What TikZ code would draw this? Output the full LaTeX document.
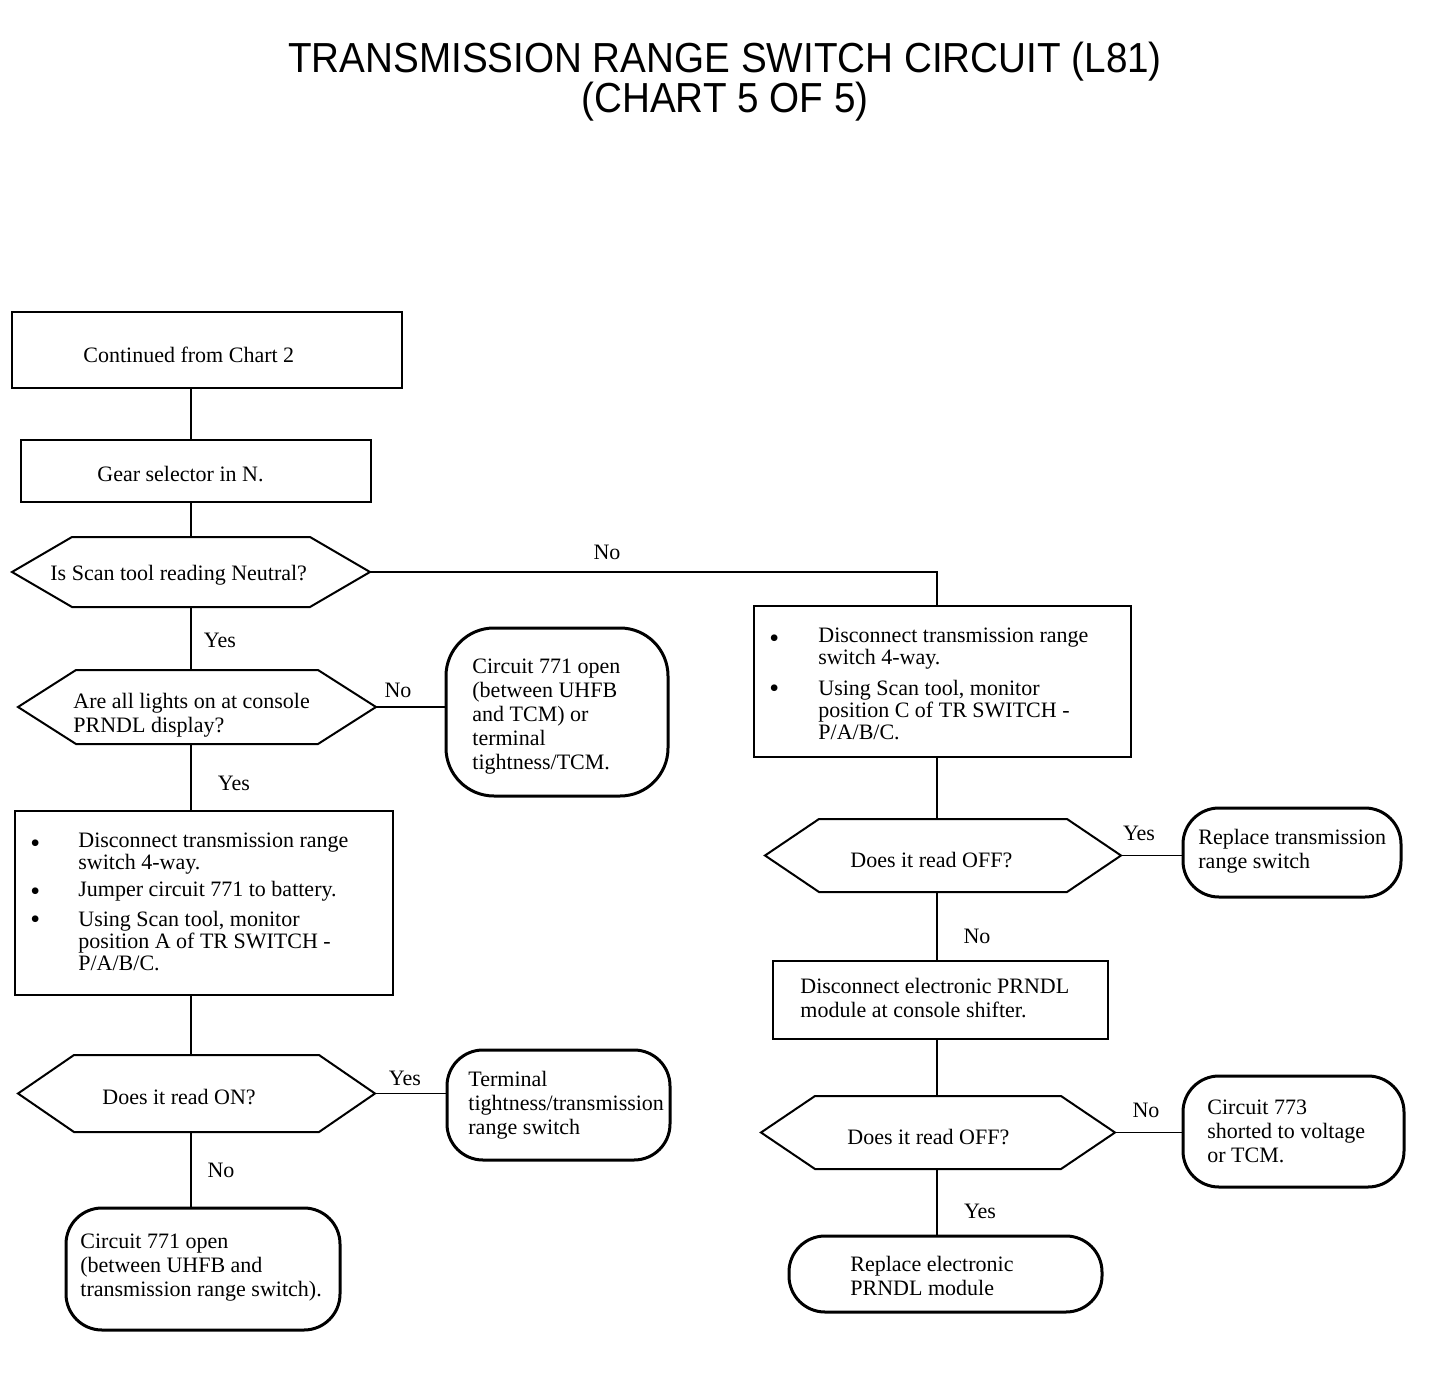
\documentclass[tikz,border=0pt]{standalone}
\usepackage{fontspec}
\setmainfont{Liberation Serif}
\newfontfamily\titlefont{Liberation Sans}
\usepackage{graphicx}
\usetikzlibrary{calc}
\tikzset{
  hexbox/.style={draw=none, rectangle, inner sep=0pt, outer sep=0pt},
  rbox/.style={draw, rectangle, line width=1pt, inner sep=0pt, outer sep=0pt},
  term/.style={draw, rectangle, line width=1.5pt, rounded corners=18pt, inner sep=0pt, outer sep=0pt},
  hexline/.style={line width=1pt, line join=miter},
  txt/.style={anchor=west, inner sep=0pt, align=left, font=\fontsize{11}{12}\selectfont},
  btxt/.style={anchor=west, inner sep=0pt, align=left, font=\fontsize{11}{11}\selectfont},
  bul/.style={anchor=west, inner sep=0pt, font=\fontsize{14}{14}\selectfont},
  lbl/.style={inner sep=0pt, font=\fontsize{11}{12}\selectfont},
  conn/.style={line width=0.8pt},
  ttl/.style={inner sep=0pt, font=\titlefont\fontsize{21}{24}\selectfont}
}
\newcommand{\hexdraw}[2]{\draw[hexline] (#1.west) -- ([xshift=#2]#1.north west) -- ([xshift=-#2]#1.north east) -- (#1.east) -- ([xshift=-#2]#1.south east) -- ([xshift=#2]#1.south west) -- cycle;}
\begin{document}
\begin{tikzpicture}[x=0.5pt,y=-0.5pt]
\useasboundingbox (0,0) rectangle (1456,1380);

% title
\node[ttl] (t1) at (725,62) {\scalebox{0.92}[1]{TRANSMISSION RANGE SWITCH CIRCUIT (L81)}};
\node[ttl] (t2) at (725,102) {\scalebox{0.92}[1]{(CHART 5 OF 5)}};

\coordinate (lx) at (191,0);
\coordinate (rx) at (937,0);

% left column
\node[rbox, minimum width=195pt, minimum height=38pt] (b1) at (207,350) {};
\node[txt] (b1t) at (83,355) {Continued from Chart 2};

\node[rbox, minimum width=175pt, minimum height=31pt] (b2) at (196,471) {};
\node[txt] (b2t) at (97,474) {Gear selector in N.};

\node[hexbox, minimum width=179pt, minimum height=35pt] (d1) at (191,572) {};
\hexdraw{d1}{30pt}
\node[txt] (d1t) at (50,575) {Is Scan tool reading Neutral?};

\node[hexbox, minimum width=179pt, minimum height=37pt] (d2) at (197,707) {};
\hexdraw{d2}{29pt}
\node[txt] (d2t) at (73,715) {Are all lights on at console\\PRNDL display?};

\node[term, rounded corners=24pt, minimum width=111pt, minimum height=84pt] (tA) at (557,712) {};
\node[txt] (tAt) at (472,717) {Circuit 771 open\\(between UHFB\\and TCM) or\\terminal\\tightness/TCM.};

\node[rbox, minimum width=189pt, minimum height=92pt] (b3) at (204,903) {};
\node[bul] (b3a) at (30,846) {\textbullet};
\node[btxt] (b3at) at (78,853.5) {Disconnect transmission range\\switch 4-way.};
\node[bul] (b3b) at (30,894) {\textbullet};
\node[btxt] (b3bt) at (78,891) {Jumper circuit 771 to battery.};
\node[bul] (b3c) at (30,922) {\textbullet};
\node[btxt] (b3ct) at (78,941) {Using Scan tool, monitor\\position A of TR SWITCH -\\P/A/B/C.};

\node[hexbox, minimum width=178.5pt, minimum height=38.5pt] (d3) at (196.5,1093.5) {};
\hexdraw{d3}{28pt}
\node[txt] (d3t) at (102,1097) {Does it read ON?};

\node[term, minimum width=111.5pt, minimum height=55pt] (tB) at (558.5,1105) {};
\node[txt] (tBt) at (468,1105) {Terminal\\tightness/transmission\\range switch};

\node[term, minimum width=137pt, minimum height=61pt] (tC) at (203,1269) {};
\node[txt] (tCt) at (80,1268) {Circuit 771 open\\(between UHFB and\\transmission range switch).};

% right column
\node[rbox, minimum width=188.5pt, minimum height=75.5pt] (r1) at (942.5,681.5) {};
\node[bul] (r1a) at (769,641) {\textbullet};
\node[btxt] (r1at) at (818,649) {Disconnect transmission range\\switch 4-way.};
\node[bul] (r1b) at (769,691) {\textbullet};
\node[btxt] (r1bt) at (818,710) {Using Scan tool, monitor\\position C of TR SWITCH -\\P/A/B/C.};

\node[hexbox, minimum width=178pt, minimum height=36.5pt] (e1) at (943,855.5) {};
\hexdraw{e1}{27pt}
\node[txt] (e1t) at (850,860) {Does it read OFF?};

\node[term, minimum width=109pt, minimum height=44.5pt] (tD) at (1292,852.5) {};
\node[txt] (tDt) at (1198,851.5) {Replace transmission\\range switch};

\node[rbox, minimum width=167.5pt, minimum height=39pt] (r2) at (940.5,1000) {};
\node[txt] (r2t) at (800,998.5) {Disconnect electronic PRNDL\\module at console shifter.};

\node[hexbox, minimum width=177pt, minimum height=36.5pt] (e2) at (938,1132.5) {};
\hexdraw{e2}{27pt}
\node[txt] (e2t) at (847,1137) {Does it read OFF?};

\node[term, minimum width=110.5pt, minimum height=55.5pt] (tE) at (1293.5,1131.5) {};
\node[txt] (tEt) at (1207,1131) {Circuit 773\\shorted to voltage\\or TCM.};

\node[term, minimum width=156.5pt, minimum height=38pt] (tF) at (945.5,1274) {};
\node[txt] (tFt) at (850,1276) {Replace electronic\\PRNDL module};

% connectors
\draw[conn] (b1.south -| lx) -- (b2.north -| lx);
\draw[conn] (b2.south -| lx) -- (d1.north -| lx);
\draw[conn] (d1.east) -- (d1.east -| rx) -- (r1.north -| rx);
\draw[conn] (d1.south -| lx) -- (d2.north -| lx);
\draw[conn] (d2.east) -- (d2.east -| tA.west);
\draw[conn] (d2.south -| lx) -- (b3.north -| lx);
\draw[conn] (b3.south -| lx) -- (d3.north -| lx);
\draw[conn] (d3.east) -- (d3.east -| tB.west);
\draw[conn] (d3.south -| lx) -- (tC.north -| lx);
\draw[conn] (r1.south -| rx) -- (e1.north -| rx);
\draw[conn] (e1.east) -- (e1.east -| tD.west);
\draw[conn] (e1.south -| rx) -- (r2.north -| rx);
\draw[conn] (r2.south -| rx) -- (e2.north -| rx);
\draw[conn] (e2.east) -- (e2.east -| tE.west);
\draw[conn] (e2.south -| rx) -- (tF.north -| rx);

% labels
\node[lbl] (l1) at (607,552) {No};
\node[lbl] (l2) at (220,640) {Yes};
\node[lbl] (l3) at (398,690) {No};
\node[lbl] (l4) at (234,783) {Yes};
\node[lbl] (l5) at (405,1078) {Yes};
\node[lbl] (l6) at (221,1170) {No};
\node[lbl] (l7) at (1139,833) {Yes};
\node[lbl] (l8) at (977,936) {No};
\node[lbl] (l9) at (1146,1110) {No};
\node[lbl] (l10) at (980,1211) {Yes};
\end{tikzpicture}
\end{document}
